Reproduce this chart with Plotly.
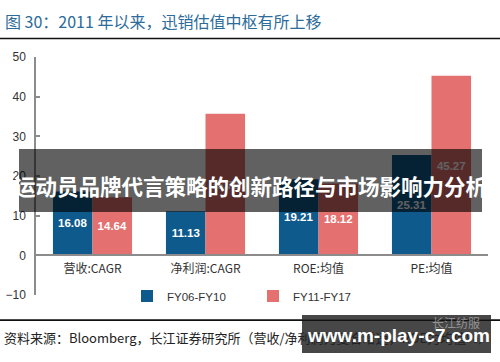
import plotly.graph_objects as go

categories = ["营收:CAGR", "净利润:CAGR", "ROE:均值", "PE:均值"]
series_names = ["FY06-FY10", "FY11-FY17"]
fy06_fy10 = [16.08, 11.13, 19.21, 25.31]
fy11_fy17 = [14.64, 35.70, 18.12, 45.27]
y_ticks = [-10, 0, 10, 20, 30, 40, 50]

title_text = "图 30：2011 年以来，迅销估值中枢有所上移"
source_text = "资料来源：Bloomberg，长江证券研究所（营收/净利润为复合增速，ROE为均值%）"
banner_text = "运动员品牌代言策略的创新路径与市场影响力分析"
watermark_text = "www.m-play-c7.com"
logo_text = "长江纺服"

W, H = 500, 362
ML, MR, MT, MB = 36, 12, 57, 67
PW, PH = W - ML - MR, H - MT - MB


def px(x):
    return (x - ML) / PW


def py(y):
    return (H - MB - y) / PH


FONT = "Liberation Sans, Arial, Noto Sans CJK SC, sans-serif"
CJK = "Noto Sans CJK SC, Liberation Sans, sans-serif"
BLUE = "#0f5a8c"
PINK = "#e4706f"
AXIS = "#8c8c8c"

fig = go.Figure()
for name, vals, col in [(series_names[0], fy06_fy10, BLUE), (series_names[1], fy11_fy17, PINK)]:
    fig.add_trace(go.Bar(
        x=categories, y=vals, name=name, marker=dict(color=col, line=dict(width=0)),
        text=[f"{v:.2f}" for v in vals], textposition="inside", insidetextanchor="middle",
        textfont=dict(color="white", size=11.5, family=FONT, weight="bold"),
        constraintext="none",
    ))

fig.update_layout(
    width=W, height=H, margin=dict(l=ML, r=MR, t=MT, b=MB, autoexpand=False),
    paper_bgcolor="white", plot_bgcolor="white",
    barmode="group", bargap=0.30, bargroupgap=0,
    font=dict(family=FONT, size=12, color="#333333"),
    showlegend=True,
    legend=dict(orientation="h", x=px(127), xanchor="left", y=py(296), yanchor="middle",
                entrywidth=81, entrywidthmode="pixels", font=dict(size=11.5, color="#333333"),
                bgcolor="rgba(0,0,0,0)", itemclick=False),
    xaxis=dict(anchor="free", position=10 / 60, showline=True, linecolor=AXIS, linewidth=1.5,
               ticks="", showgrid=False, ticklabelstandoff=3,
               tickfont=dict(size=12, color="#333333", family=CJK)),
    yaxis=dict(range=[-10, 50], tickvals=y_ticks, showgrid=False, zeroline=False,
               showline=True, linecolor=AXIS, linewidth=1.5, ticks="inside", ticklen=4,
               tickcolor=AXIS, tickwidth=1.5, ticklabelstandoff=6,
               tickfont=dict(size=12, color="#333333")),
)

shapes = [
    dict(type="line", xref="paper", yref="paper", x0=px(0), x1=px(500), y0=py(38.5), y1=py(38.5),
         line=dict(color="#111111", width=1.5)),
    dict(type="line", xref="paper", yref="paper", x0=px(0), x1=px(500), y0=py(320), y1=py(320),
         line=dict(color="#111111", width=1.5)),
    dict(type="rect", xref="paper", yref="paper", x0=px(19), x1=px(482), y0=py(149), y1=py(212),
         fillcolor="rgba(0,0,0,0.62)", line=dict(width=0), layer="above"),
    dict(type="rect", xref="paper", yref="paper", x0=px(302), x1=px(491), y0=py(315), y1=py(353),
         fillcolor="rgba(45,45,45,0.88)", line=dict(width=0), layer="above"),
]
fig.update_layout(shapes=shapes)

ann = [
    # horizontal rules drawn as thin filled annotation boxes
    dict(text="&nbsp;", x=px(250), y=py(38.5), xanchor="center", yanchor="middle",
         width=500, height=1, bgcolor="#111111", borderpad=0, borderwidth=0,
         font=dict(size=1, color="#111111")),
    dict(text="&nbsp;", x=px(250), y=py(320), xanchor="center", yanchor="middle",
         width=500, height=1, bgcolor="#111111", borderpad=0, borderwidth=0,
         font=dict(size=1, color="#111111")),
    dict(text=title_text, x=px(3), y=py(21), xanchor="left", yanchor="middle",
         font=dict(size=16, color="#2c6b9a", family=CJK)),
    dict(text=source_text, x=px(2), y=py(337), xanchor="left", yanchor="middle",
         font=dict(size=13, color="#222222", family=CJK)),
    dict(text=banner_text, x=px(250), y=py(185), xanchor="center", yanchor="middle",
         font=dict(size=21.5, color="white", family=CJK, weight="bold")),
    dict(text=logo_text, x=px(482), y=py(322), xanchor="right", yanchor="middle",
         font=dict(size=12, color="rgba(200,200,200,0.6)", family=CJK)),
    dict(text=watermark_text, x=px(398), y=py(335), xanchor="center", yanchor="middle",
         font=dict(size=19, color="white", family=FONT, weight="bold")),
]
for a in ann:
    a.update(xref="paper", yref="paper", showarrow=False)
fig.update_layout(annotations=ann)

fig.write_html("out.html", config={"displayModeBar": False},
               post_script="document.body.style.margin='0';document.body.style.padding='0';document.body.style.overflow='hidden';")
